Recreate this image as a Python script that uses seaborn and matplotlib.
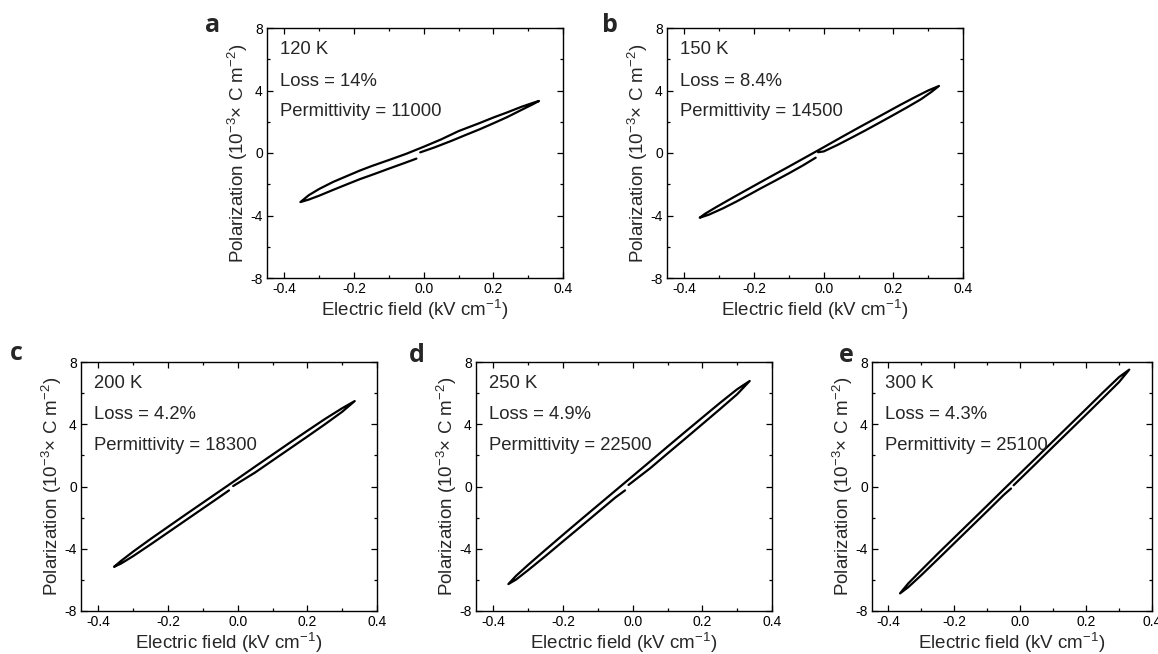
import numpy as np
import pandas as pd
import matplotlib
matplotlib.use("Agg")
import matplotlib.pyplot as plt
from matplotlib.ticker import MultipleLocator
import seaborn as sns

# ---------------- data ----------------
panel_letters = ["a", "b", "c", "d", "e"]
temperatures = ["120 K", "150 K", "200 K", "250 K", "300 K"]
losses = ["14%", "8.4%", "4.2%", "4.9%", "4.3%"]
permittivities = ["11000", "14500", "18300", "22500", "25100"]

# each loop traced: start near origin -> +max -> (upper branch) -> -max -> back toward origin
E_a = [-0.01, 0.03, 0.08, 0.12, 0.161, 0.20, 0.24, 0.28, 0.31, 0.331,
       0.31, 0.28, 0.24, 0.20, 0.161, 0.10, 0.05, 0.0, -0.05, -0.10, -0.15, -0.184, -0.22, -0.26, -0.30, -0.33, -0.354,
       -0.33, -0.30, -0.26, -0.22, -0.184, -0.14, -0.10, -0.06, -0.021]
P_a = [0.04, 0.35, 0.78, 1.15, 1.52, 1.90, 2.30, 2.75, 3.08, 3.33,
       3.18, 2.95, 2.60, 2.27, 1.92, 1.40, 0.87, 0.40, -0.05, -0.45, -0.84, -1.13, -1.47, -1.85, -2.30, -2.70, -3.14,
       -2.98, -2.73, -2.36, -2.00, -1.68, -1.33, -1.00, -0.68, -0.36]

E_b = [-0.016, 0.0, 0.04, 0.08, 0.12, 0.161, 0.20, 0.24, 0.28, 0.31, 0.331,
       0.30, 0.26, 0.22, 0.161, 0.10, 0.05, 0.0, -0.05, -0.10, -0.15, -0.184, -0.23, -0.27, -0.31, -0.34, -0.356,
       -0.33, -0.29, -0.25, -0.21, -0.184, -0.14, -0.10, -0.06, -0.023]
P_b = [0.05, 0.10, 0.52, 0.98, 1.45, 1.95, 2.43, 2.93, 3.45, 3.92, 4.29,
       4.00, 3.55, 3.08, 2.36, 1.62, 1.00, 0.37, -0.25, -0.87, -1.48, -1.90, -2.47, -2.97, -3.48, -3.88, -4.14,
       -3.95, -3.55, -3.10, -2.62, -2.30, -1.78, -1.30, -0.80, -0.30]

E_c = [-0.013, 0.05, 0.10, 0.15, 0.20, 0.25, 0.30, 0.336,
       0.30, 0.25, 0.20, 0.15, 0.10, 0.05, 0.0, -0.05, -0.10, -0.15, -0.20, -0.25, -0.30, -0.335, -0.355,
       -0.335, -0.30, -0.25, -0.20, -0.15, -0.10, -0.05, -0.025]
P_c = [0.03, 0.90, 1.67, 2.44, 3.21, 3.99, 4.80, 5.49,
       5.03, 4.33, 3.58, 2.82, 2.05, 1.28, 0.50, -0.27, -1.04, -1.81, -2.59, -3.37, -4.18, -4.78, -5.16,
       -4.95, -4.47, -3.72, -2.95, -2.18, -1.41, -0.64, -0.25]

E_d = [-0.012, 0.05, 0.10, 0.15, 0.20, 0.25, 0.30, 0.336,
       0.30, 0.25, 0.20, 0.15, 0.10, 0.05, 0.0, -0.05, -0.10, -0.15, -0.20, -0.25, -0.30, -0.335, -0.357,
       -0.335, -0.30, -0.25, -0.20, -0.15, -0.10, -0.05, -0.022]
P_d = [0.10, 1.17, 2.12, 3.06, 4.01, 4.96, 5.93, 6.78,
       6.25, 5.36, 4.43, 3.50, 2.56, 1.61, 0.67, -0.27, -1.21, -2.15, -3.10, -4.06, -5.03, -5.74, -6.27,
       -5.98, -5.37, -4.46, -3.52, -2.59, -1.65, -0.71, -0.25]

E_e = [-0.02, 0.05, 0.10, 0.15, 0.20, 0.25, 0.30, 0.331,
       0.30, 0.25, 0.20, 0.15, 0.10, 0.05, 0.0, -0.05, -0.10, -0.15, -0.20, -0.25, -0.30, -0.34, -0.365,
       -0.34, -0.30, -0.25, -0.20, -0.15, -0.10, -0.05, -0.028]
P_e = [0.08, 1.52, 2.56, 3.59, 4.62, 5.66, 6.71, 7.51,
       7.03, 6.02, 4.98, 3.95, 2.92, 1.88, 0.85, -0.18, -1.22, -2.25, -3.28, -4.31, -5.37, -6.23, -6.87,
       -6.47, -5.69, -4.67, -3.64, -2.61, -1.58, -0.54, -0.13]

loops_E = [E_a, E_b, E_c, E_d, E_e]
loops_P = [P_a, P_b, P_c, P_d, P_e]

x_ticks = [-0.4, -0.2, 0.0, 0.2, 0.4]
y_ticks = [-8, -4, 0, 4, 8]

# ---------------- style ----------------
sns.set_style("ticks")
plt.rcParams["font.family"] = ["Liberation Sans", "DejaVu Sans"]
plt.rcParams["mathtext.fontset"] = "custom"
plt.rcParams["mathtext.rm"] = "Liberation Sans"
plt.rcParams["mathtext.it"] = "Liberation Sans:italic"
plt.rcParams["mathtext.bf"] = "Liberation Sans:bold"
plt.rcParams["mathtext.default"] = "regular"

fig = plt.figure(figsize=(11.58, 6.54), dpi=100)
W, H = 1158.0, 654.0
# axes boxes in pixels: left, top, width, height
boxes = [(267, 28, 296, 250), (667, 28, 296, 250),
         (81, 362, 296, 249), (476, 362, 296, 249), (872, 362, 280, 249)]
letter_pos = [(213, 25), (610, 25), (16, 354), (417, 355), (846, 356)]

for i in range(5):
    l, t, w, h = boxes[i]
    ax = fig.add_axes([l / W, 1 - (t + h) / H, w / W, h / H])
    df = pd.DataFrame({"E": loops_E[i], "P": loops_P[i]})
    sns.lineplot(data=df, x="E", y="P", sort=False, estimator=None,
                 color="black", linewidth=1.6, ax=ax)
    ax.set_xlim(-0.45, 0.4)
    ax.set_ylim(-8, 8)
    ax.set_xticks(x_ticks)
    ax.set_yticks(y_ticks)
    ax.set_xticklabels(["%.1f" % v for v in x_ticks])
    ax.set_yticklabels([str(v) for v in y_ticks])
    ax.xaxis.set_minor_locator(MultipleLocator(0.1))
    ax.yaxis.set_minor_locator(MultipleLocator(2))
    ax.tick_params(which="both", direction="in", top=True, right=True,
                   colors="black", width=0.9, labelsize=10, pad=3)
    ax.tick_params(which="major", length=4)
    ax.tick_params(which="minor", length=2.2)
    for s in ax.spines.values():
        s.set_color("black")
        s.set_linewidth(1.0)
    ax.set_xlabel("Electric field (kV cm$^{-1}$)", fontsize=13.5, labelpad=1)
    ax.set_ylabel("Polarization (10$^{-3}$× C m$^{-2}$)", fontsize=13.5, labelpad=0)
    ax.text(0.045, 0.912, temperatures[i], transform=ax.transAxes,
            fontsize=13.3, va="center", ha="left")
    ax.text(0.045, 0.788, "Loss = " + losses[i], transform=ax.transAxes,
            fontsize=13.3, va="center", ha="left")
    ax.text(0.045, 0.664, "Permittivity = " + permittivities[i], transform=ax.transAxes,
            fontsize=13.3, va="center", ha="left")
    lx, ly = letter_pos[i]
    fig.text(lx / W, 1 - ly / H, panel_letters[i], fontsize=18, fontweight="bold",
             family=["Open Sans", "DejaVu Sans"], ha="center", va="center")

fig.savefig("out.png", dpi=100, facecolor="white")
